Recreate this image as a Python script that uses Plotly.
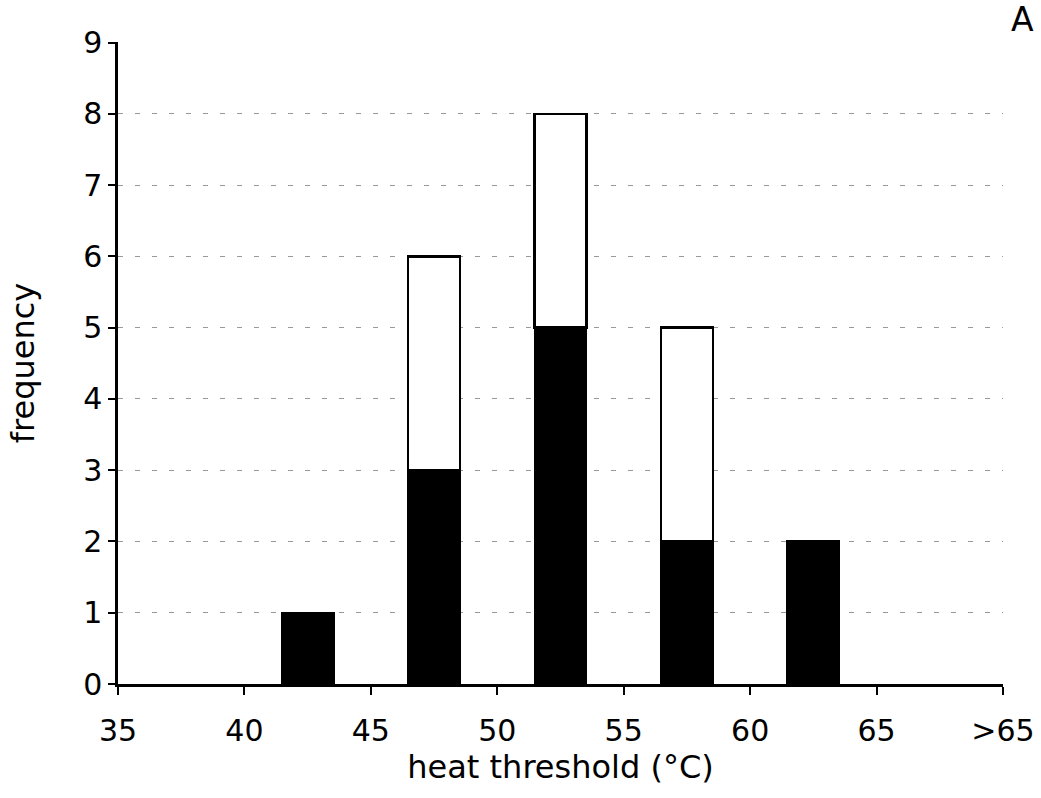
import plotly.graph_objects as go

bin_centers = [42.5, 47.5, 52.5, 57.5, 62.5]
black_counts = [1, 3, 5, 2, 2]
white_counts = [0, 3, 3, 3, 0]
tick_vals = [35, 40, 45, 50, 55, 60, 65, 70]
tick_text = ["35", "40", "45", "50", "55", "60", "65", ">65"]
y_ticks = [0, 1, 2, 3, 4, 5, 6, 7, 8, 9]

FONT = "DejaVu Sans, Liberation Sans, Arial, sans-serif"

fig = go.Figure()
fig.add_trace(go.Bar(x=bin_centers, y=black_counts, width=2.05,
                     marker=dict(color="black", line=dict(color="black", width=2))))
fig.add_trace(go.Bar(x=bin_centers, y=white_counts, width=2.05,
                     marker=dict(color="white", line=dict(color="black", width=2.5))))

fig.update_layout(
    barmode="stack",
    width=1041, height=798,
    margin=dict(l=118, r=38, t=42, b=114, autoexpand=False),
    plot_bgcolor="white", paper_bgcolor="white",
    showlegend=False,
    font=dict(family=FONT, color="black"),
    annotations=[dict(text="A", xref="paper", yref="paper", x=1.0215, y=1.035,
                      xanchor="center", yanchor="middle", showarrow=False,
                      font=dict(size=33, family=FONT, color="black"))],
)
fig.update_xaxes(range=[35, 70], tickvals=tick_vals, ticktext=tick_text,
                 automargin=False,
                 showline=True, linecolor="black", linewidth=2.5,
                 ticks="outside", ticklen=8, tickwidth=2, tickcolor="black",
                 showgrid=False, zeroline=False, ticklabeloverflow="allow",
                 ticklabelstandoff=10,
                 tickfont=dict(size=30, family=FONT),
                 title=dict(text="heat threshold (°C)", font=dict(size=32, family=FONT), standoff=8))
fig.update_yaxes(range=[0, 9.01], tickvals=y_ticks,
                 automargin=False,
                 showline=True, linecolor="black", linewidth=2.5,
                 ticks="outside", ticklen=7, tickwidth=2, tickcolor="black",
                 showgrid=True, gridcolor="#999999", gridwidth=1, griddash="5px,12px",
                 zeroline=False,
                 tickfont=dict(size=30, family=FONT),
                 title=dict(text="frequency", font=dict(size=32, family=FONT), standoff=39))

fig.write_html("out.html", config={"displayModeBar": False},
               post_script="document.body.style.margin='0';")
